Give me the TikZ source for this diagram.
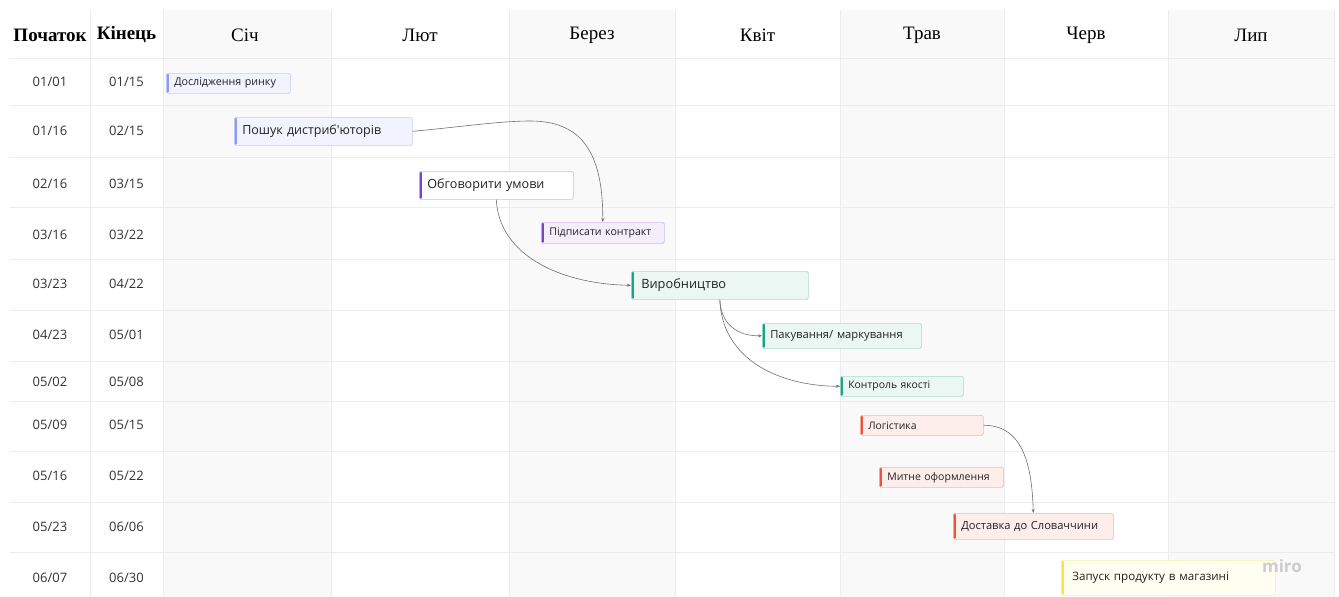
\documentclass[tikz,border=0pt]{standalone}
\usepackage{fontspec}
\setmainfont{Liberation Serif}
\newfontfamily\lab{Open Sans}
\usetikzlibrary{arrows.meta}
\definecolor{colshade}{HTML}{F9F9F9}
\definecolor{gridl}{HTML}{ECECEC}
\definecolor{txt}{HTML}{222222}
\definecolor{datetxt}{HTML}{333333}
\definecolor{bfill}{HTML}{F1F4FE}
\definecolor{bline}{HTML}{C6CDF6}
\definecolor{bacc}{HTML}{8D9BF1}
\definecolor{pfill}{HTML}{F4EEFB}
\definecolor{pwfill}{HTML}{FFFFFF}
\definecolor{pline}{HTML}{CDBBEA}
\definecolor{pacc}{HTML}{7B44C6}
\definecolor{gfill}{HTML}{EBF7F3}
\definecolor{gline}{HTML}{A9DCCD}
\definecolor{gacc}{HTML}{1CA386}
\definecolor{rfill}{HTML}{FDEEEC}
\definecolor{rline}{HTML}{F3B7AF}
\definecolor{racc}{HTML}{E8543C}
\definecolor{yfill}{HTML}{FFFEF1}
\definecolor{yline}{HTML}{F7F0A6}
\definecolor{yacc}{HTML}{F6E743}
\definecolor{conn}{HTML}{707070}
\tikzset{
  task/.style={anchor=north west, inner xsep=8pt, inner ysep=0pt, rounded corners=1.5pt,
    align=left, text=txt, line width=0.6pt},
  accent/.style={path picture={\fill[#1] (path picture bounding box.north west) rectangle ([xshift=2.6pt]path picture bounding box.south west);}},
  tblue/.style={task, fill=bfill, draw=bline, accent=bacc},
  tpurp/.style={task, fill=pfill, draw=pline, accent=pacc},
  tpurpw/.style={task, fill=pwfill, draw=pline, accent=pacc},
  tgreen/.style={task, fill=gfill, draw=gline, accent=gacc},
  tred/.style={task, fill=rfill, draw=rline, accent=racc},
  tyel/.style={task, fill=yfill, draw=yline, accent=yacc},
  hdr/.style={font=\fontsize{19}{22}\selectfont, text=black, inner sep=0pt},
  datecell/.style={font=\lab\fontsize{13}{15}\selectfont, text=datetxt, inner sep=0pt},
  link/.style={draw=conn, line width=0.6pt, -{Stealth[length=4pt,width=3pt]}},
}
\newcommand\fs[1]{\lab\fontsize{#1}{#1}\selectfont}
\begin{document}
\begin{tikzpicture}[x=1pt,y=-1pt]
\useasboundingbox (0,0) rectangle (1339,597);
\fill[white] (0,0) rectangle (1339,597);
% shaded month columns
\foreach \a/\b in {163/331, 509/675, 840/1004, 1168/1334}
  \fill[colshade] (\a,10) rectangle (\b,597);
% grid lines
\foreach \y in {58,105,157,207,259,310,361,401,451,502,552}
  \draw[gridl, line width=0.6pt] (10,\y) -- (1334,\y);
\foreach \x in {90,163,331,509,675,840,1004,1168,1334}
  \draw[gridl, line width=0.6pt] (\x,10) -- (\x,597);
% header
\node[hdr, font=\fontsize{19}{22}\selectfont\bfseries] (h1) at (50,35) {Початок};
\node[hdr, font=\fontsize{19}{22}\selectfont\bfseries] (h2) at (126.5,35) {Кінець};
\node[hdr] (m1) at (245,35) {Січ};
\node[hdr] (m2) at (420,35) {Лют};
\node[hdr] (m3) at (592,35) {Берез};
\node[hdr] (m4) at (757.5,35) {Квіт};
\node[hdr] (m5) at (922,35) {Трав};
\node[hdr] (m6) at (1086,35) {Черв};
\node[hdr] (m7) at (1251,35) {Лип};
% dates
\foreach \i/\s/\e/\y in {1/01\slash 01/01\slash 15/82, 2/01\slash 16/02\slash 15/131, 3/02\slash 16/03\slash 15/184,
  4/03\slash 16/03\slash 22/235, 5/03\slash 23/04\slash 22/284, 6/04\slash 23/05\slash 01/335,
  7/05\slash 02/05\slash 08/382, 8/05\slash 09/05\slash 15/425, 9/05\slash 16/05\slash 22/476,
  10/05\slash 23/06\slash 06/527, 11/06\slash 07/06\slash 30/578} {
  \node[datecell] (s\i) at (50,\y) {\s};
  \node[datecell] (e\i) at (126.5,\y) {\e};
}
% tasks
\node[tblue, text width=108pt, minimum height=20pt, font=\fs{10.7}] (t1) at (166,73) {Дослідження ринку};
\node[tblue, text width=162pt, minimum height=28pt, font=\fs{12.5}] (t2) at (234,117) {Пошук дистриб'юторів};
\node[tpurpw, text width=138pt, minimum height=28pt, font=\fs{12.6}] (t3) at (419,171) {Обговорити умови};
\node[tpurp, text width=107pt, minimum height=21pt, font=\fs{10.6}] (t4) at (541,222) {Підписати контракт};
\node[tgreen, text width=157pt, minimum height=28pt, inner xsep=10pt, font=\fs{12.8}] (t5) at (631,271) {Виробництво};
\node[tgreen, text width=143pt, minimum height=25pt, font=\fs{11.2}] (t6) at (762,323) {Пакування/ маркування};
\node[tgreen, text width=107pt, minimum height=20pt, font=\fs{10.4}] (t7) at (840,376) {Контроль якості};
\node[tred, text width=107pt, minimum height=20pt, font=\fs{10.4}] (t8) at (860,415) {Логістика};
\node[tred, text width=108pt, minimum height=20pt, font=\fs{10.5}] (t9) at (879,467) {Митне оформлення};
\node[tred, text width=144pt, minimum height=26pt, font=\fs{11.1}] (t10) at (953,513) {Доставка до Словаччини};
\node[tyel, text width=192pt, minimum height=35pt, inner xsep=11pt, font=\fs{11.6}] (t11) at (1061,560) {Запуск продукту в магазині};
% miro mark
\node[font=\lab\fontsize{17}{17}\selectfont\bfseries, text=black!20, inner sep=0pt] (logo) at (1282,566) {miro};
% connectors
\draw[link] (t2.east) .. controls (460,127) and (500,121) .. (530,121) .. controls (580,121) and (603,150) .. (t4.north);
\draw[link] (t3.south) .. controls (499,255) and (560,284) .. (t5.west);
\draw[link] (t5.south) .. controls (721,325) and (738,336) .. (t6.west);
\draw[link] (t5.south) .. controls (722,360) and (780,386) .. (t7.west);
\draw[link] (t8.east) .. controls (1025,425) and (1032,470) .. (t10.north);
\end{tikzpicture}
\end{document}
